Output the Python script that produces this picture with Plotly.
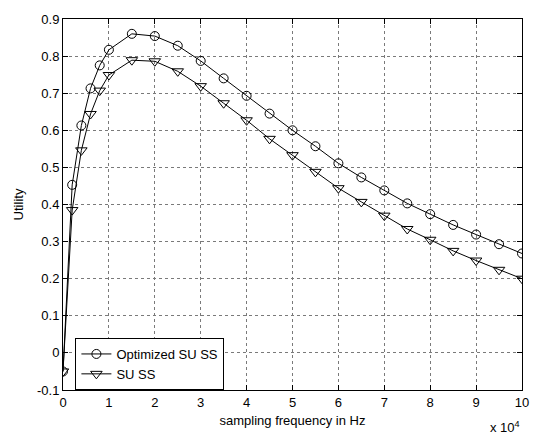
import plotly.graph_objects as go

# sampling frequency in Hz
fs = [0, 2000, 4000, 6000, 8000, 10000, 15000, 20000, 25000, 30000, 35000, 40000,
      45000, 50000, 55000, 60000, 65000, 70000, 75000, 80000, 85000, 90000, 95000, 100000]
optimized_su_ss = [-0.05, 0.453, 0.613, 0.713, 0.775, 0.817, 0.860, 0.854, 0.828, 0.787,
                   0.740, 0.693, 0.645, 0.600, 0.557, 0.511, 0.473, 0.438, 0.403, 0.374,
                   0.345, 0.319, 0.293, 0.268]
su_ss = [-0.05, 0.385, 0.546, 0.644, 0.707, 0.749, 0.789, 0.786, 0.759, 0.719,
         0.673, 0.627, 0.577, 0.533, 0.488, 0.444, 0.407, 0.370, 0.334, 0.305,
         0.275, 0.249, 0.224, 0.200]

x_tickvals = [0, 10000, 20000, 30000, 40000, 50000, 60000, 70000, 80000, 90000, 100000]
x_ticktext = ["0", "1", "2", "3", "4", "5", "6", "7", "8", "9", "10"]
y_tickvals = [-0.1, 0, 0.1, 0.2, 0.3, 0.4, 0.5, 0.6, 0.7, 0.8, 0.9]
y_ticktext = ["-0.1", "0", "0.1", "0.2", "0.3", "0.4", "0.5", "0.6", "0.7", "0.8", "0.9"]

FONT = "Liberation Sans, Arial, sans-serif"
FS = 13

fig = go.Figure()
fig.add_trace(go.Scatter(
    x=fs, y=optimized_su_ss, mode="lines+markers", name="Optimized SU SS",
    line=dict(color="black", width=1),
    marker=dict(symbol="circle-open", size=9, color="black", line=dict(width=1)),
))
fig.add_trace(go.Scatter(
    x=fs, y=su_ss, mode="lines+markers", name="SU SS",
    line=dict(color="black", width=1),
    marker=dict(symbol="triangle-down-open", size=10, color="black", line=dict(width=1)),
))

axis_common = dict(
    showline=True, linecolor="black", linewidth=1, mirror="ticks",
    ticks="inside", ticklen=5, tickcolor="black", tickwidth=1,
    showgrid=True, gridcolor="#7a7a7a", griddash="dot", gridwidth=1,
    zeroline=False, tickfont=dict(family=FONT, size=FS, color="black"),
)

fig.update_xaxes(
    range=[0, 100000], tickvals=x_tickvals, ticktext=x_ticktext,
    title=dict(text="sampling frequency in Hz", font=dict(family=FONT, size=FS, color="black"), standoff=7),
    **axis_common,
)
fig.update_yaxes(
    range=[-0.1, 0.9], tickvals=y_tickvals, ticktext=y_ticktext,
    title=dict(text="Utility", font=dict(family=FONT, size=FS, color="black"), standoff=10),
    **axis_common,
)

fig.add_annotation(
    xref="paper", yref="paper", x=1.0, y=-0.1, xanchor="right", yanchor="middle",
    text="x 10<sup>4</sup>", showarrow=False,
    font=dict(family=FONT, size=FS, color="black"),
)

fig.update_layout(
    width=541, height=438,
    margin=dict(l=63, r=12, t=15, b=48),
    paper_bgcolor="white", plot_bgcolor="white",
    font=dict(family=FONT, size=FS, color="black"),
    legend=dict(
        x=0.027, y=0, xanchor="left", yanchor="bottom",
        bgcolor="white", bordercolor="black", borderwidth=1,
        font=dict(family=FONT, size=FS, color="black"),
        tracegroupgap=0,
    ),
)

fig.write_html("out.html")
